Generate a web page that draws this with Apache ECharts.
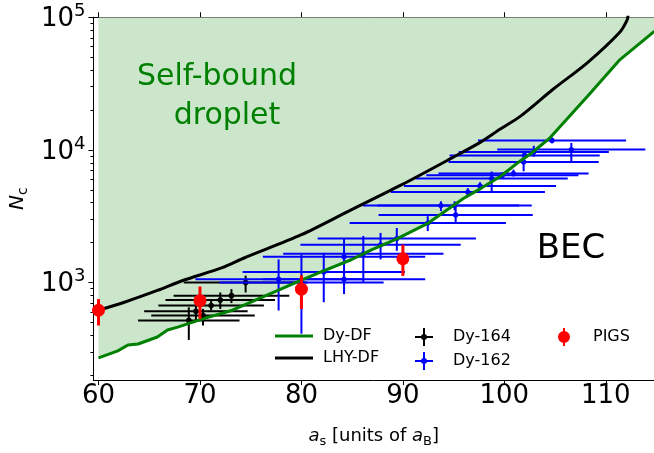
<!DOCTYPE html>
<html>
<head>
<meta charset="utf-8">
<script src="https://cdn.jsdelivr.net/npm/echarts@6/dist/echarts.min.js"></script>
<style>
  html, body { margin: 0; padding: 0; background: #fff; }
  #chart { width: 654px; height: 453px; }
</style>
</head>
<body>
<div id="chart"></div>
<script>
// 曲线数据 (a_s, N_c)
const dyDfX = [60.0, 61.9, 62.9, 63.9, 65.8, 66.8, 67.8, 70.2, 73.2, 76.1, 80.0, 82.0, 84.9, 86.9, 89.4, 92.5, 96.0, 97.7, 99.6, 101.6, 102.6, 104.5, 108.2, 111.4, 114.6, 115.3];
const dyDfY = [270, 305, 338, 344, 388, 438, 461, 529, 618, 773, 1044, 1208, 1485, 1765, 2134, 2808, 4315, 5130, 6300, 8295, 9355, 12330, 25400, 48000, 76400, 83200];

const lhyX = [60.0, 62.55, 65.8, 68.3, 72.2, 74.4, 80.0, 84.9, 89.8, 94.7, 97.7, 99.6, 101.6, 104.8, 108.2, 111.4, 112.1, 112.2];
const lhyY = [618, 710, 871, 1035, 1294, 1537, 2294, 3531, 5420, 8590, 11500, 14380, 17990, 28650, 45600, 77600, 95500, 104000];

// Dy-164 实验点
const dy164X = [68.9, 69.6, 70.3, 71.1, 72.0, 73.1, 74.5];
const dy164Y = [518, 607, 563, 670, 738, 796, 1000];
const dy164Xerr = [5.0, 5.1, 5.1, 5.2, 5.4, 5.7, 6.1];
const dy164Ylo = [369, 520, 474, 615, 632, 700, 841];
const dy164Yhi = [650, 673, 632, 735, 841, 891, 1128];

// Dy-162 实验点
const dy162X = [77.75, 80.0, 82.2, 84.2, 84.2, 86.1, 87.8, 89.4, 92.45, 93.75, 95.1, 95.2, 96.4, 97.6, 98.75, 99.8, 100.9, 101.9, 102.0, 102.9, 104.7, 106.6];
const dy162Y = [1059, 1000, 1202, 1563, 1059, 1648, 1923, 2143, 2805, 3803, 3803, 3235, 4808, 5350, 6080, 6440, 6637, 8110, 9090, 9640, 11780, 10070];
const dy162Xerr = [8.2, 8.1, 8.0, 8.0, 8.0, 7.9, 7.9, 7.8, 7.7, 7.7, 7.6, 7.6, 7.6, 7.5, 7.5, 7.5, 7.4, 7.4, 7.4, 7.4, 7.3, 7.3];
const dy162Ylo = [615, 411, 710, 818, 950, 1000, 1493, 1734, 2443, 3450, 3500, 2805, 4500, 5000, 4865, 6100, 6300, 6900, 8600, 8890, 11200, 8110];
const dy162Yhi = [1493, 1626, 1675, 2168, 1180, 2245, 2366, 2577, 3162, 4100, 4100, 3700, 5150, 5700, 6870, 6800, 7100, 9680, 9600, 10740, 12400, 11290];

// PIGS
const pigsX = [60, 70, 80, 90];
const pigsY = [618, 730, 891, 1510];
const pigsYlo = [474, 532, 631, 1122];
const pigsYhi = [750, 933, 1134, 1930];

// 刻度
const xTicks = [60, 70, 80, 90, 100, 110];
const yTicks = [1000, 10000, 100000];
const yMinorTicks = [200, 300, 400, 500, 600, 700, 800, 900,
    2000, 3000, 4000, 5000, 6000, 7000, 8000, 9000,
    20000, 30000, 40000, 50000, 60000, 70000, 80000, 90000];

const FONT = 'DejaVu Sans';

function zip(xs, ys) {
    return xs.map((x, i) => [x, ys[i]]);
}

function errRows(xs, ys, xerr, ylo, yhi) {
    return xs.map((x, i) => [x, ys[i], xerr ? xerr[i] : 0, ylo[i], yhi[i]]);
}

// 误差棒绘制
function errorBar(color, barWidth, radius) {
    return function (params, api) {
        const x = api.value(0), y = api.value(1), xe = api.value(2);
        const c = api.coord([x, y]);
        const children = [];
        if (xe > 0) {
            const l = api.coord([x - xe, y]);
            const r = api.coord([x + xe, y]);
            children.push({
                type: 'line',
                shape: { x1: l[0], y1: l[1], x2: r[0], y2: r[1] },
                style: { stroke: color, lineWidth: barWidth }
            });
        }
        const t = api.coord([x, api.value(4)]);
        const b = api.coord([x, api.value(3)]);
        children.push({
            type: 'line',
            shape: { x1: t[0], y1: t[1], x2: b[0], y2: b[1] },
            style: { stroke: color, lineWidth: barWidth }
        });
        children.push({
            type: 'circle',
            shape: { cx: c[0], cy: c[1], r: radius },
            style: { fill: color }
        });
        return { type: 'group', children: children };
    };
}

const lineIcon = 'path://M0,0h38v3h-38z';
const plusIcon = 'path://M8,0h2v18h-2z M0,8h18v2h-18z M6,9a3,3 0 1,1 6,0a3,3 0 1,1 -6,0z';
const pigsIcon = 'path://M8,0h2v18h-2z M3,9a6,6 0 1,1 12,0a6,6 0 1,1 -12,0z';

const chart = echarts.init(document.getElementById('chart'));

const legendBase = {
    orient: 'vertical',
    top: 323,
    itemWidth: 38,
    itemHeight: 18,
    itemGap: 6,
    symbolKeepAspect: true,
    textStyle: { fontSize: 16, color: '#000', fontFamily: FONT, padding: [0, 0, 0, 5] }
};

chart.setOption({
    animation: false,
    backgroundColor: '#fff',
    textStyle: { fontFamily: FONT },
    grid: { left: 90.7, top: 17.3, width: 563.3, height: 366 },
    legend: [
        Object.assign({}, legendBase, {
            left: 270,
            data: [{ name: 'Dy-DF', icon: lineIcon }, { name: 'LHY-DF', icon: lineIcon }]
        }),
        Object.assign({}, legendBase, {
            left: 410,
            data: [{ name: 'Dy-164', icon: plusIcon }, { name: 'Dy-162', icon: plusIcon }]
        }),
        Object.assign({}, legendBase, { left: 553, data: [{ name: 'PIGS', icon: pigsIcon }] })
    ],
    xAxis: [
        {
            type: 'value',
            min: 59.5,
            max: 114.75,
            position: 'bottom',
            axisLine: { lineStyle: { color: '#000', width: 1 } },
            axisTick: { customValues: xTicks, length: 5, lineStyle: { color: '#000' } },
            axisLabel: { customValues: xTicks, fontSize: 26, color: '#000', margin: 3, fontFamily: FONT },
            splitLine: { show: false },
            name: '{i|a}{sub|s} [units of {i|a}{sub|B}]',
            nameLocation: 'middle',
            nameGap: 45,
            nameTextStyle: {
                fontSize: 18, color: '#000', fontFamily: FONT,
                rich: {
                    i: { fontSize: 18, fontStyle: 'italic', color: '#000', fontFamily: FONT },
                    sub: { fontSize: 13, verticalAlign: 'bottom', padding: [10, 0, 0, 0], color: '#000', fontFamily: FONT }
                }
            }
        },
        {
            type: 'value',
            min: 59.5,
            max: 114.75,
            position: 'top',
            axisLine: { lineStyle: { color: '#000', width: 1 } },
            axisTick: { customValues: xTicks, length: 5, lineStyle: { color: '#000' } },
            axisLabel: { show: false },
            splitLine: { show: false }
        }
    ],
    yAxis: [
        {
            type: 'log',
            logBase: 10,
            min: 184,
            max: 100000,
            position: 'left',
            axisLine: { show: true, lineStyle: { color: '#000', width: 1 } },
            axisTick: { customValues: yTicks, length: 5, lineStyle: { color: '#000' } },
            axisLabel: {
                customValues: yTicks,
                margin: 8,
                formatter: v => '{b|10}{s|' + Math.round(Math.log10(v)) + '}',
                rich: {
                    b: { fontSize: 26, color: '#000', fontFamily: FONT, padding: [4, 0, 0, 0] },
                    s: { fontSize: 18, color: '#000', fontFamily: FONT, verticalAlign: 'top' }
                }
            },
            splitLine: { show: false },
            name: '{i|N}{sub|c}',
            nameLocation: 'middle',
            nameRotate: 90,
            nameGap: 63,
            nameTextStyle: {
                fontSize: 20, color: '#000', fontFamily: FONT,
                rich: {
                    i: { fontSize: 20, fontStyle: 'italic', color: '#000', fontFamily: FONT },
                    sub: { fontSize: 14, verticalAlign: 'bottom', padding: [10, 0, 0, 0], color: '#000', fontFamily: FONT }
                }
            }
        },
        {
            type: 'log',
            logBase: 10,
            min: 184,
            max: 100000,
            position: 'left',
            axisLine: { show: false },
            axisTick: { customValues: yMinorTicks, length: 3, lineStyle: { color: '#000' } },
            axisLabel: { show: false },
            splitLine: { show: false }
        }
    ],
    graphic: [
        {
            type: 'text', x: 217, y: 77, z: 50,
            style: { text: 'Self-bound', fill: '#008000', fontSize: 30, fontFamily: FONT, align: 'center', verticalAlign: 'middle' }
        },
        {
            type: 'text', x: 227, y: 116, z: 50,
            style: { text: 'droplet', fill: '#008000', fontSize: 30, fontFamily: FONT, align: 'center', verticalAlign: 'middle' }
        },
        {
            type: 'text', x: 571, y: 249, z: 50,
            style: { text: 'BEC', fill: '#000', fontSize: 34, fontFamily: FONT, align: 'center', verticalAlign: 'middle' }
        }
    ],
    series: [
        {
            name: 'fill',
            type: 'line',
            data: zip(dyDfX, dyDfY),
            symbol: 'none',
            lineStyle: { width: 0 },
            areaStyle: { origin: 'end', color: '#cce6cc', opacity: 1 },
            silent: true,
            z: 1
        },
        {
            name: 'Dy-164',
            type: 'custom',
            itemStyle: { color: '#000' },
            renderItem: errorBar('#000', 2, 2.8),
            data: errRows(dy164X, dy164Y, dy164Xerr, dy164Ylo, dy164Yhi),
            encode: { x: 0, y: 1 },
            z: 3
        },
        {
            name: 'Dy-162',
            type: 'custom',
            itemStyle: { color: '#0000ff' },
            renderItem: errorBar('#0000ff', 2, 2.6),
            data: errRows(dy162X, dy162Y, dy162Xerr, dy162Ylo, dy162Yhi),
            encode: { x: 0, y: 1 },
            z: 3
        },
        {
            name: 'Dy-DF',
            type: 'line',
            data: zip(dyDfX, dyDfY),
            symbol: 'none',
            color: '#008000',
            lineStyle: { color: '#008000', width: 3 },
            z: 4
        },
        {
            name: 'LHY-DF',
            type: 'line',
            data: zip(lhyX, lhyY),
            symbol: 'none',
            smooth: 0.3,
            color: '#000',
            lineStyle: { color: '#000', width: 3 },
            z: 4
        },
        {
            name: 'PIGS',
            type: 'custom',
            itemStyle: { color: '#ff0000' },
            renderItem: errorBar('#ff0000', 3, 6.5),
            data: errRows(pigsX, pigsY, null, pigsYlo, pigsYhi),
            encode: { x: 0, y: 1 },
            z: 5
        }
    ]
});
</script>
</body>
</html>
